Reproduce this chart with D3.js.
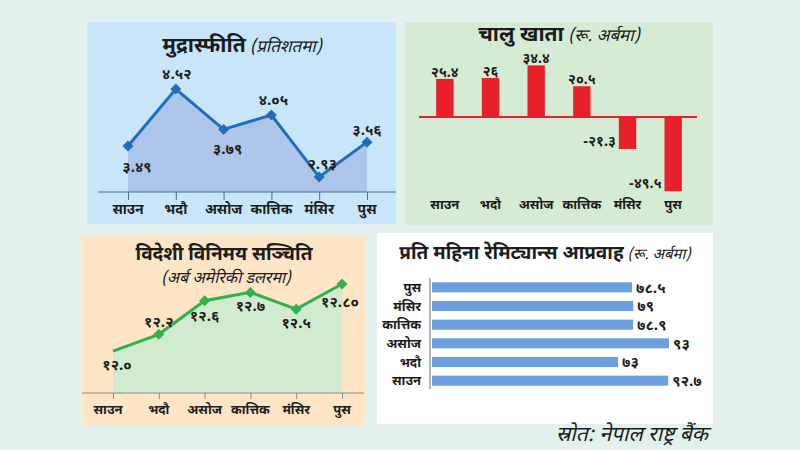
<!DOCTYPE html>
<html><head><meta charset="utf-8">
<script src="https://cdn.jsdelivr.net/npm/d3@7/dist/d3.min.js"></script>
<style>
html,body{margin:0;padding:0;background:#e2f1ed;}
svg{display:block;}
text{font-family:"Noto Sans Devanagari","Lohit Devanagari","Mukta","Noto Sans",sans-serif;fill:#1c1c1c;}
</style></head>
<body>
<svg id="c" width="800" height="450"></svg>
<script>
// ---- data ----
const months = ["साउन", "भदौ", "असोज", "कात्तिक", "मंसिर", "पुस"];
const inflation = [3.49, 4.52, 3.79, 4.05, 2.93, 3.56];
const currentAccount = [25.4, 26, 34.4, 20.5, -21.3, -49.5];
const forexReserve = [12.0, 12.2, 12.6, 12.7, 12.5, 12.8];
const forexLabels = ["12.0", "12.2", "12.6", "12.7", "12.5", "12.80"];
const remittance = [92.7, 73, 93, 78.9, 79, 78.5];

const titles = {
  inflation: ["मुद्रास्फीति", "(प्रतिशतमा)"],
  current: ["चालु खाता", "(रू. अर्बमा)"],
  forex: ["विदेशी विनिमय सञ्चिति", "(अर्ब अमेरिकी डलरमा)"],
  remit: ["प्रति महिना रेमिट्यान्स आप्रवाह", "(रू. अर्बमा)"]
};
const source = "स्रोत: नेपाल राष्ट्र बैंक";

// ---- helpers ----
const devDigits = "०१२३४५६७८९";
const dev = s => String(s).replace(/[0-9]/g, d => devDigits[+d]);
const svg = d3.select("#c");
svg.append("rect").attr("width", 800).attr("height", 450).attr("fill", "#e2f1ed");

function panel(x, y, w, h, fill) {
  svg.append("rect").attr("x", x).attr("y", y).attr("width", w).attr("height", h).attr("fill", fill);
}
function diamond(g, cx, cy, r, color) {
  g.append("path")
    .attr("d", d3.symbol().type(d3.symbolSquare).size(r * r * 2)())
    .attr("transform", `translate(${cx},${cy}) rotate(45)`)
    .attr("fill", color);
}

// ================= Panel 1: inflation =================
panel(87, 22, 309, 202, "#c8e5fa");
{
  const g = svg.append("g");
  const t = g.append("text").attr("x", 242).attr("y", 52).attr("text-anchor", "middle");
  t.append("tspan").text(titles.inflation[0]).attr("font-size", 21).attr("font-weight", 700);
  t.append("tspan").text(" " + titles.inflation[1]).attr("font-size", 17).attr("font-style", "italic");

  const x = d3.scalePoint().domain(months).range([128, 367]);
  const y = d3.scaleLinear().domain([2.66, 4.52]).range([192, 89]);
  const pts = months.map((m, i) => [x(m), y(inflation[i])]);

  g.append("path").datum(pts)
    .attr("d", d3.area().x(d => d[0]).y0(y(2.66)).y1(d => d[1]))
    .attr("fill", "#a9bfe6").attr("opacity", 0.85);

  const axis = d3.axisBottom(x).tickSize(8).tickFormat("");
  const ag = g.append("g").attr("transform", `translate(0,${y(2.66)})`).call(axis);
  ag.select(".domain").remove();
  ag.selectAll(".tick line").attr("stroke", "#4d6b8a").attr("stroke-width", 1);
  g.append("line").attr("x1", 98).attr("x2", 396).attr("y1", y(2.66)).attr("y2", y(2.66))
    .attr("stroke", "#4d6b8a").attr("stroke-width", 1);

  g.append("path").datum(pts).attr("d", d3.line()).attr("fill", "none")
    .attr("stroke", "#1f6dbd").attr("stroke-width", 3);
  pts.forEach(p => diamond(g, p[0], p[1], 5.5, "#1f6dbd"));

  const off = [[9, 21], [1, -15], [4, 19], [2, -15], [3, -13], [0, -12]];
  pts.forEach((p, i) => {
    g.append("text").attr("x", p[0] + off[i][0]).attr("y", p[1] + off[i][1]).attr("dy", "0.35em")
      .attr("text-anchor", "middle").attr("font-size", 15).attr("font-weight", 700)
      .text(dev(inflation[i].toFixed(2)));
  });
  months.forEach(m => {
    g.append("text").attr("x", x(m)).attr("y", 214).attr("text-anchor", "middle")
      .attr("font-size", 14).attr("font-weight", 700).text(m);
  });
}

// ================= Panel 2: current account =================
panel(405, 22, 308, 203, "#d6ebd3");
{
  const g = svg.append("g");
  const t = g.append("text").attr("x", 559).attr("y", 41).attr("text-anchor", "middle");
  t.append("tspan").text(titles.current[0]).attr("font-size", 21).attr("font-weight", 700);
  t.append("tspan").text(" " + titles.current[1]).attr("font-size", 17).attr("font-style", "italic");

  const x = d3.scaleBand().domain(months).range([422, 696]).paddingInner(0.62).paddingOuter(0.31);
  const y = d3.scaleLinear().domain([-50, 40]).range([192, 57]);

  g.selectAll(".bar").data(currentAccount).join("rect")
    .attr("x", (d, i) => x(months[i]))
    .attr("width", x.bandwidth())
    .attr("y", d => y(Math.max(0, d)))
    .attr("height", d => Math.abs(y(d) - y(0)))
    .attr("fill", "#e8202a");
  g.append("line").attr("x1", 419).attr("x2", 697).attr("y1", y(0)).attr("y2", y(0))
    .attr("stroke", "#e8202a").attr("stroke-width", 2);

  currentAccount.forEach((v, i) => {
    const cx = x(months[i]) + x.bandwidth() / 2;
    if (v >= 0) {
      g.append("text").attr("x", cx).attr("y", y(v) - 2).attr("text-anchor", "middle")
        .attr("font-size", 14).attr("font-weight", 700).text(dev(v));
    } else {
      g.append("text").attr("x", x(months[i]) - 3).attr("y", y(v) - 3).attr("text-anchor", "end")
        .attr("font-size", 14).attr("font-weight", 700).text(dev(v));
    }
  });
  months.forEach(m => {
    g.append("text").attr("x", x(m) + x.bandwidth() / 2).attr("y", 209).attr("text-anchor", "middle")
      .attr("font-size", 13).attr("font-weight", 700).text(m);
  });
}

// ================= Panel 3: forex reserve =================
panel(82, 236, 284, 190, "#fde5c6");
{
  const g = svg.append("g");
  g.append("text").attr("x", 224).attr("y", 260).attr("text-anchor", "middle")
    .attr("font-size", 19).attr("font-weight", 700).text(titles.forex[0]);
  g.append("text").attr("x", 226).attr("y", 283).attr("text-anchor", "middle")
    .attr("font-size", 16).attr("font-style", "italic").text(titles.forex[1]);

  const x = d3.scalePoint().domain(months).range([113, 342]);
  const y = d3.scaleLinear().domain([11.5, 12.8]).range([393, 284]);
  const pts = months.map((m, i) => [x(m), y(forexReserve[i])]);

  g.append("path").datum(pts)
    .attr("d", d3.area().x(d => d[0]).y0(y(11.5)).y1(d => d[1]))
    .attr("fill", "#cdebcf").attr("opacity", 0.95);

  g.append("line").attr("x1", 82).attr("x2", 364).attr("y1", y(11.5)).attr("y2", y(11.5))
    .attr("stroke", "#8a8a8a").attr("stroke-width", 1);
  const axis = d3.axisBottom(x).tickSize(6).tickFormat("");
  const ag = g.append("g").attr("transform", `translate(0,${y(11.5)})`).call(axis);
  ag.select(".domain").remove();
  ag.selectAll(".tick line").attr("stroke", "#8a8a8a");

  g.append("path").datum(pts).attr("d", d3.line()).attr("fill", "none")
    .attr("stroke", "#2fb24a").attr("stroke-width", 3);
  pts.slice(1).forEach(p => diamond(g, p[0], p[1], 5.5, "#2fb24a"));

  const off = [[4, 14], [0, -13], [0, 15], [0, 13], [0, 14], [-2, 18]];
  pts.forEach((p, i) => {
    g.append("text").attr("x", p[0] + off[i][0]).attr("y", p[1] + off[i][1]).attr("dy", "0.35em")
      .attr("text-anchor", "middle").attr("font-size", 15).attr("font-weight", 700)
      .text(dev(forexLabels[i]));
  });
  months.forEach((m, i) => {
    g.append("text").attr("x", x(m) + (i === 0 ? -5 : 0)).attr("y", 414).attr("text-anchor", "middle")
      .attr("font-size", 13).attr("font-weight", 700).text(m);
  });
}

// ================= Panel 4: remittance =================
panel(377, 233, 336, 191, "#ffffff");
{
  const g = svg.append("g");
  const t = g.append("text").attr("x", 545).attr("y", 259).attr("text-anchor", "middle");
  t.append("tspan").text(titles.remit[0]).attr("font-size", 19).attr("font-weight", 700);
  t.append("tspan").text(" " + titles.remit[1]).attr("font-size", 15).attr("font-style", "italic");

  const order = months.slice().reverse();
  const y = d3.scaleBand().domain(order).range([278, 390]).paddingInner(0.46).paddingOuter(0.23);
  const x = d3.scaleLinear().domain([0, 93]).range([432, 669]);

  g.append("line").attr("x1", 430).attr("x2", 430).attr("y1", 278).attr("y2", 389)
    .attr("stroke", "#9a9a9a").attr("stroke-width", 1.5);

  months.forEach((m, i) => {
    g.append("rect").attr("x", x(0)).attr("y", y(m))
      .attr("width", x(remittance[i]) - x(0)).attr("height", y.bandwidth())
      .attr("fill", "#6c9fe0");
    g.append("text").attr("x", x(remittance[i]) + 4).attr("y", y(m) + y.bandwidth() / 2).attr("dy", "0.35em")
      .attr("font-size", 15).attr("font-weight", 700).text(dev(remittance[i]));
    g.append("text").attr("x", 421).attr("y", y(m) + y.bandwidth() / 2).attr("dy", "0.35em")
      .attr("text-anchor", "end").attr("font-size", 13).attr("font-weight", 700).text(m);
  });
}

svg.append("text").attr("x", 708).attr("y", 441).attr("text-anchor", "end")
  .attr("font-size", 21).attr("font-style", "italic").attr("fill", "#333").text(source);
</script>
</body></html>
